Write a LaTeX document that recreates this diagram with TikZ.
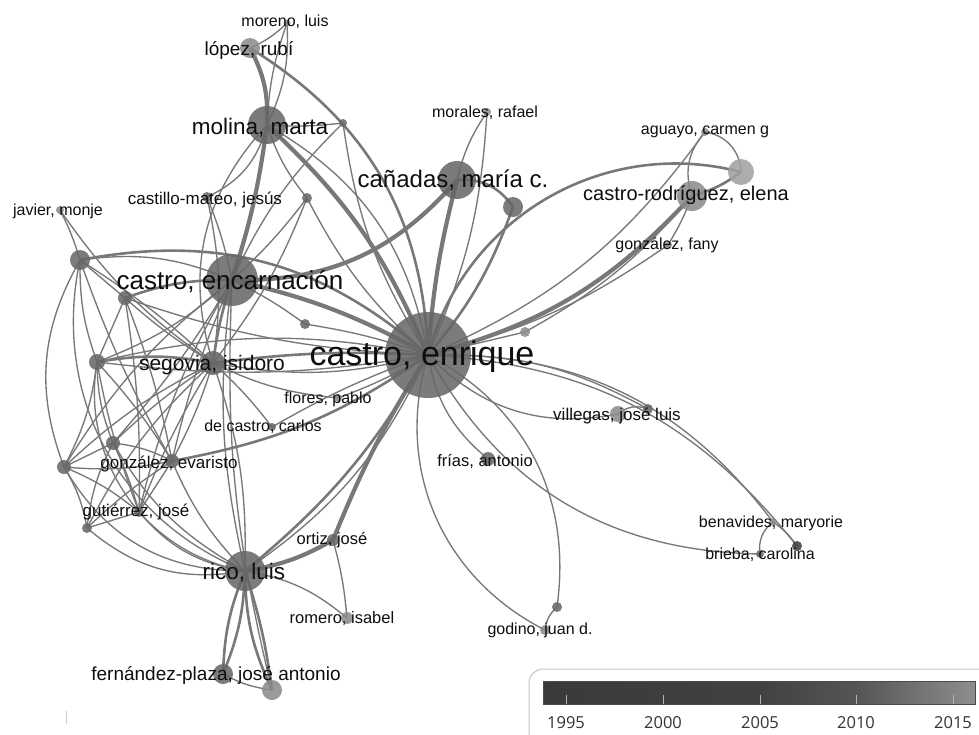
\documentclass[tikz,border=0pt]{standalone}
\usepackage{fontspec}
\setmainfont{Liberation Sans}
\newfontfamily\legfont{Open Sans}
\newcommand{\myfs}[1]{\fontsize{#1}{#1}\selectfont}
\definecolor{edgec}{HTML}{787878}
\definecolor{nodec}{HTML}{666666}
\definecolor{nodel}{HTML}{8A8A8A}
\definecolor{nodevl}{HTML}{A0A0A0}
\definecolor{noded}{HTML}{3C3C3C}
\definecolor{labc}{HTML}{0E0E0E}
\definecolor{barA}{HTML}{3A3A3A}
\definecolor{barB}{HTML}{414141}
\definecolor{barC}{HTML}{555555}
\definecolor{barD}{HTML}{8E8E8E}
\begin{document}
\begin{tikzpicture}[x=1pt,y=1pt,
  ed/.style={draw=edgec, line width=1.35pt},
  edm/.style={draw=edgec, line width=2.6pt},
  edt/.style={draw=edgec, line width=4.2pt},
  nd/.style={circle, inner sep=0pt, draw=none, fill=#1, fill opacity=0.86},
  nd/.default=nodec,
  lbl/.style={text=labc, inner sep=0pt, font=\myfs{#1}},
  lbl/.default=16]
\useasboundingbox (0,0) rectangle (979,-734);
\fill[white] (0,0) rectangle (979,-734);
% ---------- positions ----------
\coordinate (E) at (428,-355);
\coordinate (CE) at (232,-280);
\coordinate (MM) at (267,-125);
\coordinate (CM) at (457,-180);
\coordinate (SI) at (213,-363);
\coordinate (RL) at (245,-571);
\coordinate (CR) at (692,-196);
\coordinate (N740) at (741,-172);
\coordinate (N513) at (513,-207);
\coordinate (AG) at (705,-132);
\coordinate (GF) at (668,-245);
\coordinate (MR) at (487,-112);
\coordinate (ML) at (287,-23);
\coordinate (LR) at (250,-48);
\coordinate (CMJ) at (207,-197);
\coordinate (JM) at (60,-210);
\coordinate (N80) at (80,-260);
\coordinate (N124) at (125,-298);
\coordinate (N97) at (97,-362);
\coordinate (N112) at (113,-443);
\coordinate (N63) at (64,-467);
\coordinate (GE) at (172,-461);
\coordinate (GJ) at (139,-512);
\coordinate (N86) at (87,-528);
\coordinate (FP) at (338,-398);
\coordinate (DC) at (272,-427);
\coordinate (OJ) at (333,-540);
\coordinate (RI) at (347,-618);
\coordinate (FJ) at (223,-674);
\coordinate (N271) at (272,-690);
\coordinate (N304) at (305,-324);
\coordinate (N343) at (343,-123);
\coordinate (N308) at (307,-198);
\coordinate (FA) at (488,-459);
\coordinate (VJ) at (618,-414);
\coordinate (N648) at (648,-409);
\coordinate (BM) at (773,-522);
\coordinate (BC) at (760,-554);
\coordinate (N797) at (797,-546);
\coordinate (GJD) at (545,-630);
\coordinate (N556) at (557,-607);
\coordinate (N525) at (525,-332);
% ---------- thin edges ----------
\foreach \a/\b/\bd in {
 ML/LR/10, ML/MM/-8, ML/MM/14,
 N343/E/-12, N343/CE/-10, N343/MM/5,
 N308/E/-10, N308/CE/5, N308/SI/8, N308/MM/10,
 N304/E/5, N304/CE/-5,
 CMJ/MM/-25, CMJ/CE/5, CMJ/SI/10,
 JM/N80/5, JM/SI/-10,
 MM/SI/-30, MM/E/25,
 MR/E/10, MR/CM/-10,
 N80/N97/-10, N80/N63/-25, N80/SI/5, N80/GE/-5, N80/CE/15, N80/N124/0, N80/RL/-40,
 N124/SI/-5, N124/N97/0, N124/GE/5, N124/E/-8, N124/GJ/5,
 N97/CE/-10, N97/N112/-10, N97/N63/10, N97/GE/5, N97/GJ/-5, N97/RL/-45, N97/E/12, N97/E/-8,
 N112/SI/5, N112/CE/-5, N112/N63/0, N112/GE/10, N112/GJ/5, N112/N86/-10, N112/RL/-15,
 N63/SI/8, N63/GE/-8, N63/GJ/8, N63/N86/10, N63/RL/-30, N63/CE/10,
 GE/SI/-5, GE/CE/5, GE/GJ/0, GE/RL/-10, GE/N86/-5,
 GJ/SI/5, GJ/CE/8, GJ/RL/-20, GJ/N86/0,
 N86/RL/-25, N86/SI/10,
 SI/FP/-10, SI/DC/5, SI/RL/10, SI/E/-12,
 CE/RL/-10, CE/N271/-8,
 E/FP/5, E/DC/-5, E/FA/-20, E/GJD/-40, E/N556/35, GJD/N556/20,
 E/VJ/-28, E/N648/15, VJ/N648/30, E/BM/27, E/N797/24, BM/N797/10, E/BC/-30, BM/BC/-30,
 E/AG/-15, E/GF/-10, GF/CR/-5, AG/CR/-30, AG/N740/40,
 N525/E/0, N525/CR/-10,
 OJ/RI/5, RL/RI/15, FJ/N271/-10, E/RL/15}
 {\draw[ed] (\a) to[bend left=\bd] (\b);}
% ---------- medium edges ----------
\foreach \a/\b/\bd in {
 LR/E/28, E/N740/45, CR/N740/-10, N80/E/26, CM/N513/30, N513/E/10,
 SI/E/5, N97/SI/10, N124/CE/10, SI/CE/5, GE/E/-12, RL/E/-10,
 RL/FJ/10, RL/FJ/-10, RL/N271/5, RL/N271/-12}
 {\draw[edm] (\a) to[bend left=\bd] (\b);}
% ---------- thick edges ----------
\foreach \a/\b/\bd in {
 MM/E/12, CE/E/8, CM/E/-5, CE/CM/-25, E/CR/-16, LR/MM/15, MM/CE/5,
 E/OJ/-5, OJ/RL/10}
 {\draw[edt] (\a) to[bend left=\bd] (\b);}
% ---------- nodes ----------
\node[nd, minimum size=86] (nE) at (E) {};
\node[nd, minimum size=52] (nCE) at (CE) {};
\node[nd, minimum size=38] (nMM) at (MM) {};
\node[nd, minimum size=38] (nCM) at (CM) {};
\node[nd, minimum size=24] (nSI) at (SI) {};
\node[nd, minimum size=40] (nRL) at (RL) {};
\node[nd=nodel, minimum size=30] (nCR) at (CR) {};
\node[nd=nodevl, minimum size=26] (nN740) at (N740) {};
\node[nd, minimum size=20] (nN513) at (N513) {};
\node[nd=nodel, minimum size=8] (nAG) at (AG) {};
\node[nd=nodel, minimum size=8] (nGF) at (GF) {};
\node[nd=nodel, minimum size=8] (nMR) at (MR) {};
\node[nd=nodel, minimum size=7] (nML) at (ML) {};
\node[nd=nodel, minimum size=20] (nLR) at (LR) {};
\node[nd, minimum size=10] (nCMJ) at (CMJ) {};
\node[nd=nodel, minimum size=8] (nJM) at (JM) {};
\node[nd, minimum size=20] (nN80) at (N80) {};
\node[nd, minimum size=14] (nN124) at (N124) {};
\node[nd, minimum size=16] (nN97) at (N97) {};
\node[nd, minimum size=14] (nN112) at (N112) {};
\node[nd, minimum size=14] (nN63) at (N63) {};
\node[nd, minimum size=14] (nGE) at (GE) {};
\node[nd, minimum size=10] (nGJ) at (GJ) {};
\node[nd, minimum size=10] (nN86) at (N86) {};
\node[nd=nodel, minimum size=8] (nFP) at (FP) {};
\node[nd, minimum size=8] (nDC) at (DC) {};
\node[nd, minimum size=12] (nOJ) at (OJ) {};
\node[nd=nodel, minimum size=12] (nRI) at (RI) {};
\node[nd, minimum size=20] (nFJ) at (FJ) {};
\node[nd=nodel, minimum size=20] (nN271) at (N271) {};
\node[nd, minimum size=10] (nN304) at (N304) {};
\node[nd, minimum size=8] (nN343) at (N343) {};
\node[nd, minimum size=10] (nN308) at (N308) {};
\node[nd, minimum size=14] (nFA) at (FA) {};
\node[nd=nodel, minimum size=16] (nVJ) at (VJ) {};
\node[nd, minimum size=10] (nN648) at (N648) {};
\node[nd=nodel, minimum size=8] (nBM) at (BM) {};
\node[nd, minimum size=8] (nBC) at (BC) {};
\node[nd=noded, minimum size=10] (nN797) at (N797) {};
\node[nd=nodel, minimum size=10] (nGJD) at (GJD) {};
\node[nd, minimum size=10] (nN556) at (N556) {};
\node[nd=nodel, minimum size=10] (nN525) at (N525) {};
% ---------- labels ----------
\node[lbl=34] (tE) at (422,-357) {castro, enrique};
\node[lbl=26] (tCE) at (230,-282) {castro, encarnación};
\node[lbl=22.5] (tMM) at (260,-128) {molina, marta};
\node[lbl=24] (tCM) at (453,-180) {cañadas, maría c.};
\node[lbl=21] (tSI) at (212,-365) {segovia, isidoro};
\node[lbl=22.5] (tRL) at (244,-573) {rico, luis};
\node[lbl=20] (tCR) at (686,-195) {castro-rodríguez, elena};
\node[lbl=16] (tAG) at (705,-132) {aguayo, carmen g};
\node[lbl=16] (tGF) at (667,-245) {gonzález, fany};
\node[lbl=16] (tMR) at (485,-113) {morales, rafael};
\node[lbl=16] (tML) at (285,-22) {moreno, luis};
\node[lbl=19] (tLR) at (249,-50) {lópez, rubí};
\node[lbl=17] (tCMJ) at (205,-200) {castillo-mateo, jesús};
\node[lbl=16] (tJM) at (58,-211) {javier, monje};
\node[lbl=17] (tGE) at (169,-464) {gonzález, evaristo};
\node[lbl=17] (tGJ) at (136,-512) {gutiérrez, josé};
\node[lbl=16] (tFP) at (328,-399) {flores, pablo};
\node[lbl=16] (tDC) at (263,-427) {de castro, carlos};
\node[lbl=16.5] (tOJ) at (332,-540) {ortiz, josé};
\node[lbl=16.5] (tRI) at (342,-619) {romero, isabel};
\node[lbl=19] (tFJ) at (216,-675) {fernández-plaza, josé antonio};
\node[lbl=16.5] (tFA) at (485,-461) {frías, antonio};
\node[lbl=17] (tVJ) at (617,-416) {villegas, josé luis};
\node[lbl=16] (tBM) at (771,-523) {benavides, maryorie};
\node[lbl=16] (tBC) at (760,-555) {brieba, carolina};
\node[lbl=16] (tGJD) at (540,-630) {godino, juan d.};
% ---------- legend ----------
\draw[draw=gray!45, line width=1pt, rounded corners=14pt] (529,-669) rectangle (1000,-760);
\shade[left color=barA, right color=barB] (543,-681) rectangle (760,-704);
\shade[left color=barB, right color=barC] (760,-681) rectangle (856,-704);
\shade[left color=barC, right color=barD] (856,-681) rectangle (975,-704);
\draw[draw=black!70, line width=0.9pt] (543,-681) rectangle (975,-704);
\foreach \xx/\yy in {566/1995, 663/2000, 760/2005, 856/2010, 953/2015}{
  \draw[draw=gray!60, line width=0.9pt] (\xx,-695) -- (\xx,-704);
  \node[text=black!80, inner sep=0pt, font=\legfont\myfs{16.5}] at (\xx,-723) {\yy};
}
\draw[draw=gray!40, line width=0.8pt] (66,-711) -- (66,-724);
\end{tikzpicture}
\end{document}
